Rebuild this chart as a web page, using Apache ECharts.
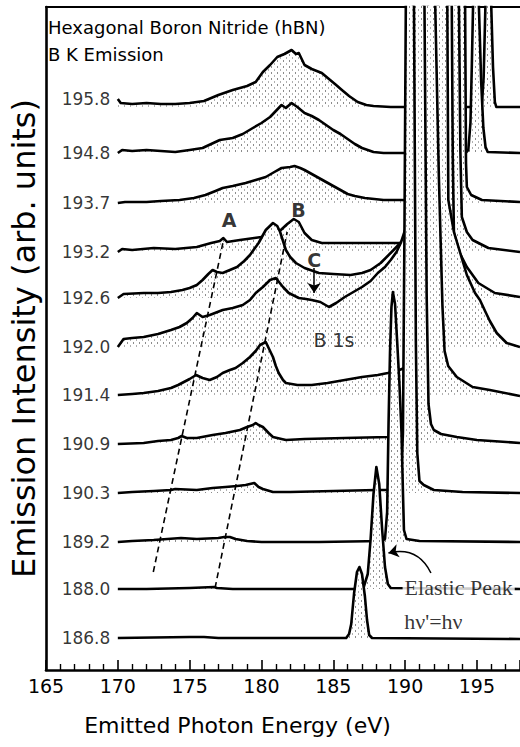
<!DOCTYPE html>
<html>
<head>
<meta charset="utf-8">
<script src="https://cdn.jsdelivr.net/npm/echarts@6/dist/echarts.min.js"></script>
<style>
  html, body { margin: 0; padding: 0; background: #fff; }
  #chart { width: 520px; height: 747px; }
</style>
</head>
<body>
<div id="chart"></div>
<script>
// Excitation energies (eV) labelling each emission spectrum, top to bottom
const excitationLabels = ['195.8', '194.8', '193.7', '193.2', '192.6', '192.0',
                          '191.4', '190.9', '190.3', '189.2', '188.0', '186.8'];

// Vertical offset of each spectrum (arb. units)
const baselines = [563, 517, 467, 418, 372, 323, 274, 226, 177, 128, 81, 32];

// Spectra: [emitted photon energy (eV), intensity above own baseline]
const spec1958 = [[170.0, 8], [170.2, 4], [171, 3], [172, 4], [173, 3], [174, 3], [175, 4], [176, 6],
  [177, 12], [178, 17], [179, 21], [179.6, 25], [180.1, 35], [180.6, 42], [181.1, 50], [181.6, 53],
  [182.1, 57], [182.4, 53], [182.6, 54], [183.0, 42], [183.5, 38], [184.2, 34], [184.7, 28],
  [185.2, 22], [185.6, 17], [186.1, 11], [186.7, 5], [187.3, 2], [187.8, 1], [189, 0], [195.2, 0],
  [195.35, 3], [195.47, 30], [195.59, 100], [195.8, 600], [196.0, 100], [196.12, 40], [196.25, 5],
  [196.35, 0], [198, 0]];

const spec1948 = [[170.0, 0], [170.3, 3], [171, 2], [172, 3], [173, 2], [174, 1], [175, 3], [175.9, 5],
  [176.5, 9], [177.1, 13], [178, 15], [178.7, 19], [179.4, 25], [180, 30], [180.6, 36], [181, 42],
  [181.4, 48], [181.7, 45], [182.1, 50], [182.5, 46], [183, 40], [183.5, 37], [184, 33], [184.5, 28],
  [185, 23], [185.5, 19], [186, 14], [186.5, 9], [187, 5], [187.8, 1], [188.5, 0], [194.2, 0],
  [194.4, 3], [194.55, 30], [194.65, 90], [194.73, 146], [194.9, 500], [195.05, 300], [195.14, 146],
  [195.3, 70], [195.45, 25], [195.6, 6], [195.75, 1], [198, 0]];

const spec1937 = [[170.0, 0], [170.5, 1], [172, 1], [173, 2], [174.3, 3], [175.3, 5], [176.1, 8],
  [176.8, 12], [177.3, 15], [178, 17], [178.9, 20], [179.6, 23], [180.3, 26], [180.9, 31], [181.4, 35],
  [182.0, 36], [182.3, 37], [182.7, 35], [183, 33], [183.5, 29], [184, 25], [184.5, 21], [185, 17],
  [185.5, 13], [186, 9], [186.5, 7], [187.2, 5], [188.5, 3], [189.7, 3], [192.8, 2], [193.1, 3],
  [193.35, 40], [193.5, 196], [193.7, 600], [194.0, 400], [194.18, 196], [194.24, 40], [194.3, 16],
  [194.6, 8], [195.35, 3], [198, 1]];

const spec1932 = [[170.0, 0], [170.3, 3], [171, 2], [172.5, 4], [174, 3], [175.5, 5], [176.5, 9],
  [177.1, 11], [177.35, 14], [177.6, 10], [178.5, 12], [179.5, 14], [180.5, 16], [181.2, 20],
  [181.8, 28], [182.25, 33], [182.6, 30], [183.0, 19], [183.5, 12], [184.2, 9], [186, 9], [188, 9],
  [190, 9], [192, 8], [192.6, 10], [192.9, 60], [193.05, 245], [193.2, 600], [193.5, 500],
  [193.75, 245], [193.85, 100], [193.95, 35], [194.3, 20], [194.7, 12], [195.8, 4], [198, 0]];

const spec1926 = [[170.0, 0], [170.4, 4], [171.8, 5], [172.8, 5], [173.7, 6], [174.5, 8], [175.0, 10],
  [175.5, 13], [175.9, 18], [176.3, 24], [176.6, 28], [176.9, 26], [177.3, 25], [177.8, 28],
  [178.3, 31], [178.8, 37], [179.2, 43], [179.8, 55], [180.3, 68], [180.8, 75], [181.1, 72],
  [181.3, 66], [181.7, 48], [182.0, 41], [182.4, 35], [183.0, 30], [184.0, 25], [185.0, 24],
  [186.2, 23], [187.0, 25], [187.6, 28], [188.3, 35], [189.2, 48], [190.0, 60], [191.0, 80],
  [191.8, 110], [192.2, 200], [192.4, 400], [192.6, 800], [193.0, 500], [193.25, 291], [193.32, 140],
  [193.4, 65], [193.8, 45], [194.3, 31], [195.1, 15], [196.25, 5], [198, 1]];

const spec1920 = [[170.0, 0], [170.1, 2], [170.4, 8], [171.0, 9], [171.8, 10], [172.8, 13], [173.7, 17],
  [174.3, 20], [174.8, 24], [175.2, 29], [175.5, 34], [175.9, 30], [176.4, 32], [177.3, 37],
  [178.0, 39], [178.7, 42], [179.2, 47], [179.6, 54], [180.1, 60], [180.6, 67], [181.0, 69],
  [181.5, 60], [181.9, 54], [182.6, 49], [183.1, 48], [183.5, 47], [184.1, 45], [184.7, 40],
  [185.2, 44], [185.8, 50], [186.4, 55], [187.0, 60], [187.6, 66], [188.1, 74], [188.6, 80],
  [189.0, 87], [189.4, 95], [189.7, 104], [190.0, 117], [190.8, 160], [191.4, 250], [191.7, 400],
  [192.0, 900], [192.5, 600], [192.94, 340], [193.01, 147], [193.4, 115], [193.84, 94], [194.3, 72],
  [194.87, 54], [195.21, 47], [195.6, 35], [195.9, 26], [196.38, 14], [197.07, 4], [198, 0]];

const spec1914 = [[170.0, 1], [171.0, 2], [171.8, 3], [172.8, 5], [173.7, 8], [174.2, 11], [174.6, 14],
  [175.0, 17], [175.45, 21], [175.9, 18], [176.4, 16], [176.9, 19], [177.3, 23], [177.8, 26],
  [178.2, 28], [178.7, 33], [179.2, 39], [179.6, 45], [179.9, 51], [180.3, 54], [180.5, 48],
  [180.8, 39], [181.0, 30], [181.2, 23], [181.5, 16], [181.7, 13], [182.5, 11], [183.5, 11],
  [184.6, 13], [185.8, 16], [187.0, 19], [188.1, 21], [188.8, 23], [189.6, 26], [190.3, 30],
  [190.8, 40], [191.1, 120], [191.25, 389], [191.4, 1000], [191.8, 700], [192.1, 389], [192.35, 220],
  [192.6, 90], [192.75, 45], [193.0, 30], [193.6, 19], [194.7, 9], [195.9, 6], [198, 0]];

const spec1909 = [[170.0, 0], [171.8, 1], [172.8, 3], [173.7, 4], [174.2, 6], [174.45, 8], [174.8, 6],
  [175.5, 6], [176.6, 9], [177.5, 11], [178.5, 14], [179.0, 17], [179.4, 19], [179.6, 21], [179.8, 19],
  [180.1, 17], [180.5, 11], [180.8, 7], [181.7, 4], [183.0, 5], [185.8, 6], [188.8, 7], [190.0, 8],
  [190.35, 10], [190.45, 80], [190.55, 437], [190.9, 1200], [191.1, 900], [191.35, 437], [191.5, 150],
  [191.63, 40], [191.8, 20], [192.0, 14], [192.5, 10], [193.6, 7], [195.0, 4], [198, 1]];

const spec1903 = [[170.0, 0], [171, 1], [172.5, 2], [173.7, 3], [174.0, 4], [175.5, 3], [176.6, 5],
  [177.5, 6], [178.3, 7], [178.9, 8], [179.2, 9], [179.5, 10], [179.8, 6], [180.1, 4], [180.8, 1],
  [182, 1], [185, 2], [188, 3], [189.5, 3], [189.7, 6], [189.85, 60], [189.95, 250], [190.05, 486],
  [190.3, 1100], [190.5, 700], [190.62, 486], [190.75, 150], [190.85, 40], [191.0, 12], [191.3, 8],
  [192.0, 3], [194.0, 1], [198, 0]];

const spec1892 = [[170.0, 0], [171, 1], [172.5, 2], [174.4, 4], [175.5, 3], [177.0, 4], [177.4, 5],
  [177.8, 5], [178.2, 3], [179, 1], [180, 0], [184, 0], [188.4, 1], [188.6, 3], [188.75, 30],
  [188.85, 120], [188.95, 190], [189.05, 235], [189.15, 250], [189.3, 238], [189.45, 200], [189.6, 160],
  [189.75, 110], [189.85, 50], [189.92, 12], [190.1, 3], [191, 1], [198, 0]];

const spec1880 = [[170.0, 0], [172, 0], [175, 1], [176.7, 2], [176.9, 1], [178, 0], [186.5, 0],
  [187.1, 1], [187.4, 15], [187.6, 50], [187.8, 95], [188.0, 122], [188.2, 105], [188.4, 60],
  [188.6, 22], [188.8, 5], [189.0, 1], [198, 0]];

const spec1868 = [[170.0, 0], [175.0, 1], [176.0, 1], [177.0, 0], [185.9, 0], [186.1, 4], [186.25, 14],
  [186.45, 45], [186.65, 66], [186.82, 71], [187.0, 64], [187.2, 42], [187.35, 18], [187.5, 3],
  [187.7, 0], [198, -1]];

const spectra = [spec1958, spec1948, spec1937, spec1932, spec1926, spec1920,
                 spec1914, spec1909, spec1903, spec1892, spec1880, spec1868];

// Guide lines through features A and B: [energy, intensity] end points
const guideA = [[172.47, 98], [177.39, 432]];
const guideB = [[176.77, 82], [181.79, 438]];

// Arrows: pointer to feature C, and pointer to the elastic peak
const arrowC = [[183.67, 402], [183.67, 377]];
const arrowElastic = [[191.8, 97], [188.84, 117]];

// X axis ticks
const xTickStep = 5;
const xMin = 165, xMax = 198;

// Stippled fill used under every spectrum
function stipplePattern() {
  const c = document.createElement('canvas');
  c.width = 6; c.height = 6;
  const g = c.getContext('2d');
  g.fillStyle = '#ffffff'; g.fillRect(0, 0, 6, 6);
  g.fillStyle = '#8c8c8c'; g.fillRect(1, 0, 1, 2);
  g.fillStyle = '#b0b0b0'; g.fillRect(4, 3, 1, 2);
  return c.toDataURL();
}
const stipple = { image: stipplePattern(), repeat: 'repeat', imageWidth: 6, imageHeight: 6 };

const FONT = 'DejaVu Sans';

const spectrumSeries = spectra.map((s, i) => ({
  type: 'line',
  name: excitationLabels[i],
  z: 2 + i,
  data: s.map(p => [p[0], baselines[i] + p[1]]),
  showSymbol: false,
  symbol: 'none',
  clip: true,
  silent: true,
  lineStyle: { color: '#000', width: 2.6, join: 'round' },
  areaStyle: { color: stipple, opacity: 1, origin: baselines[i] }
}));

const labelSeries = {
  type: 'scatter',
  z: 40,
  silent: true,
  symbolSize: 1,
  itemStyle: { color: 'rgba(0,0,0,0)' },
  data: excitationLabels.map((t, i) => ({
    name: t,
    value: [spectra[i][0][0], baselines[i] + spectra[i][0][1]]
  })),
  label: {
    show: true, position: 'left', distance: 7, formatter: '{b}',
    fontFamily: FONT, fontSize: 17, color: '#000'
  }
};

const bold = { fontFamily: FONT, fontSize: 19, fontWeight: 'bold', color: '#000' };
const noteSeries = {
  type: 'scatter',
  z: 45,
  silent: true,
  symbolSize: 1,
  itemStyle: { color: 'rgba(0,0,0,0)' },
  label: { show: true, position: 'inside', formatter: '{b}' },
  data: [
    { name: 'A', value: [177.75, 450], label: bold },
    { name: 'B', value: [182.57, 460], label: bold },
    { name: 'C', value: [183.67, 410], label: bold },
    { name: 'B 1s', value: [185.05, 330], label: { fontFamily: FONT, fontSize: 19, color: '#000' } },
    { name: 'Elastic Peak', value: [193.73, 83],
      label: { fontFamily: 'Liberation Serif', fontSize: 22, color: '#000',
               backgroundColor: '#fff', padding: [0, 2, 0, 2] } },
    { name: "h\u03bd'=h\u03bd", value: [191.97, 49],
      label: { fontFamily: 'Liberation Serif', fontSize: 22, color: '#000' } }
  ]
};

const guideSeries = [guideA, guideB].map(g => ({
  type: 'line',
  z: 35,
  silent: true,
  showSymbol: false,
  symbol: 'none',
  data: g,
  lineStyle: { color: '#000', width: 1.6, type: [6, 4] }
}));

const arrowSeries = [
  { pts: arrowC, curve: 0 },
  { pts: arrowElastic, curve: -0.4 }
].map(a => ({
  type: 'lines',
  coordinateSystem: 'cartesian2d',
  z: 46,
  silent: true,
  symbol: ['none', 'arrow'],
  symbolSize: 10,
  lineStyle: { color: '#000', width: 1.5, curveness: a.curve, opacity: 1 },
  data: [{ coords: a.pts }]
}));

const chart = echarts.init(document.getElementById('chart'), null, { renderer: 'svg' });
chart.setOption({
  animation: false,
  backgroundColor: '#fff',
  title: {
    text: 'Hexagonal Boron Nitride (hBN)\nB K Emission',
    left: 48, top: 14, padding: 0,
    textStyle: { fontFamily: FONT, fontSize: 18, fontWeight: 'normal', color: '#000', lineHeight: 27 }
  },
  grid: { left: 41, right: 0, top: 7, bottom: 77, containLabel: false },
  xAxis: [{
    type: 'value', min: xMin, max: xMax, interval: xTickStep,
    name: 'Emitted Photon Energy (eV)',
    nameLocation: 'middle', nameGap: 44,
    nameTextStyle: { fontFamily: FONT, fontSize: 22, color: '#000', padding: [0, 91, 0, 0] },
    axisLine: { show: true, onZero: false, lineStyle: { color: '#000', width: 2.6 } },
    axisTick: { show: true, inside: true, length: 10, lineStyle: { color: '#000', width: 1.6 } },
    minorTick: { show: true, splitNumber: 5, length: 6, lineStyle: { color: '#000', width: 1.4 } },
    axisLabel: {
      fontFamily: FONT, fontSize: 19, color: '#000', margin: 6, showMaxLabel: false,
      formatter: v => (v % xTickStep === 0 ? String(v) : '')
    },
    splitLine: { show: false }
  }, {
    type: 'value', position: 'top', min: xMin, max: xMax,
    axisLine: { show: true, onZero: false, lineStyle: { color: '#000', width: 2 } },
    axisTick: { show: false }, axisLabel: { show: false }, splitLine: { show: false }
  }],
  yAxis: {
    type: 'value', min: 0, max: 663,
    name: 'Emission Intensity (arb. units)',
    nameLocation: 'middle', nameGap: 6,
    nameTextStyle: { fontFamily: FONT, fontSize: 32, color: '#000' },
    axisLine: { show: true, onZero: false, lineStyle: { color: '#000', width: 2.6 } },
    axisTick: { show: false }, axisLabel: { show: false }, splitLine: { show: false }
  },
  series: [...spectrumSeries, ...guideSeries, labelSeries, noteSeries, ...arrowSeries]
});
</script>
</body>
</html>
